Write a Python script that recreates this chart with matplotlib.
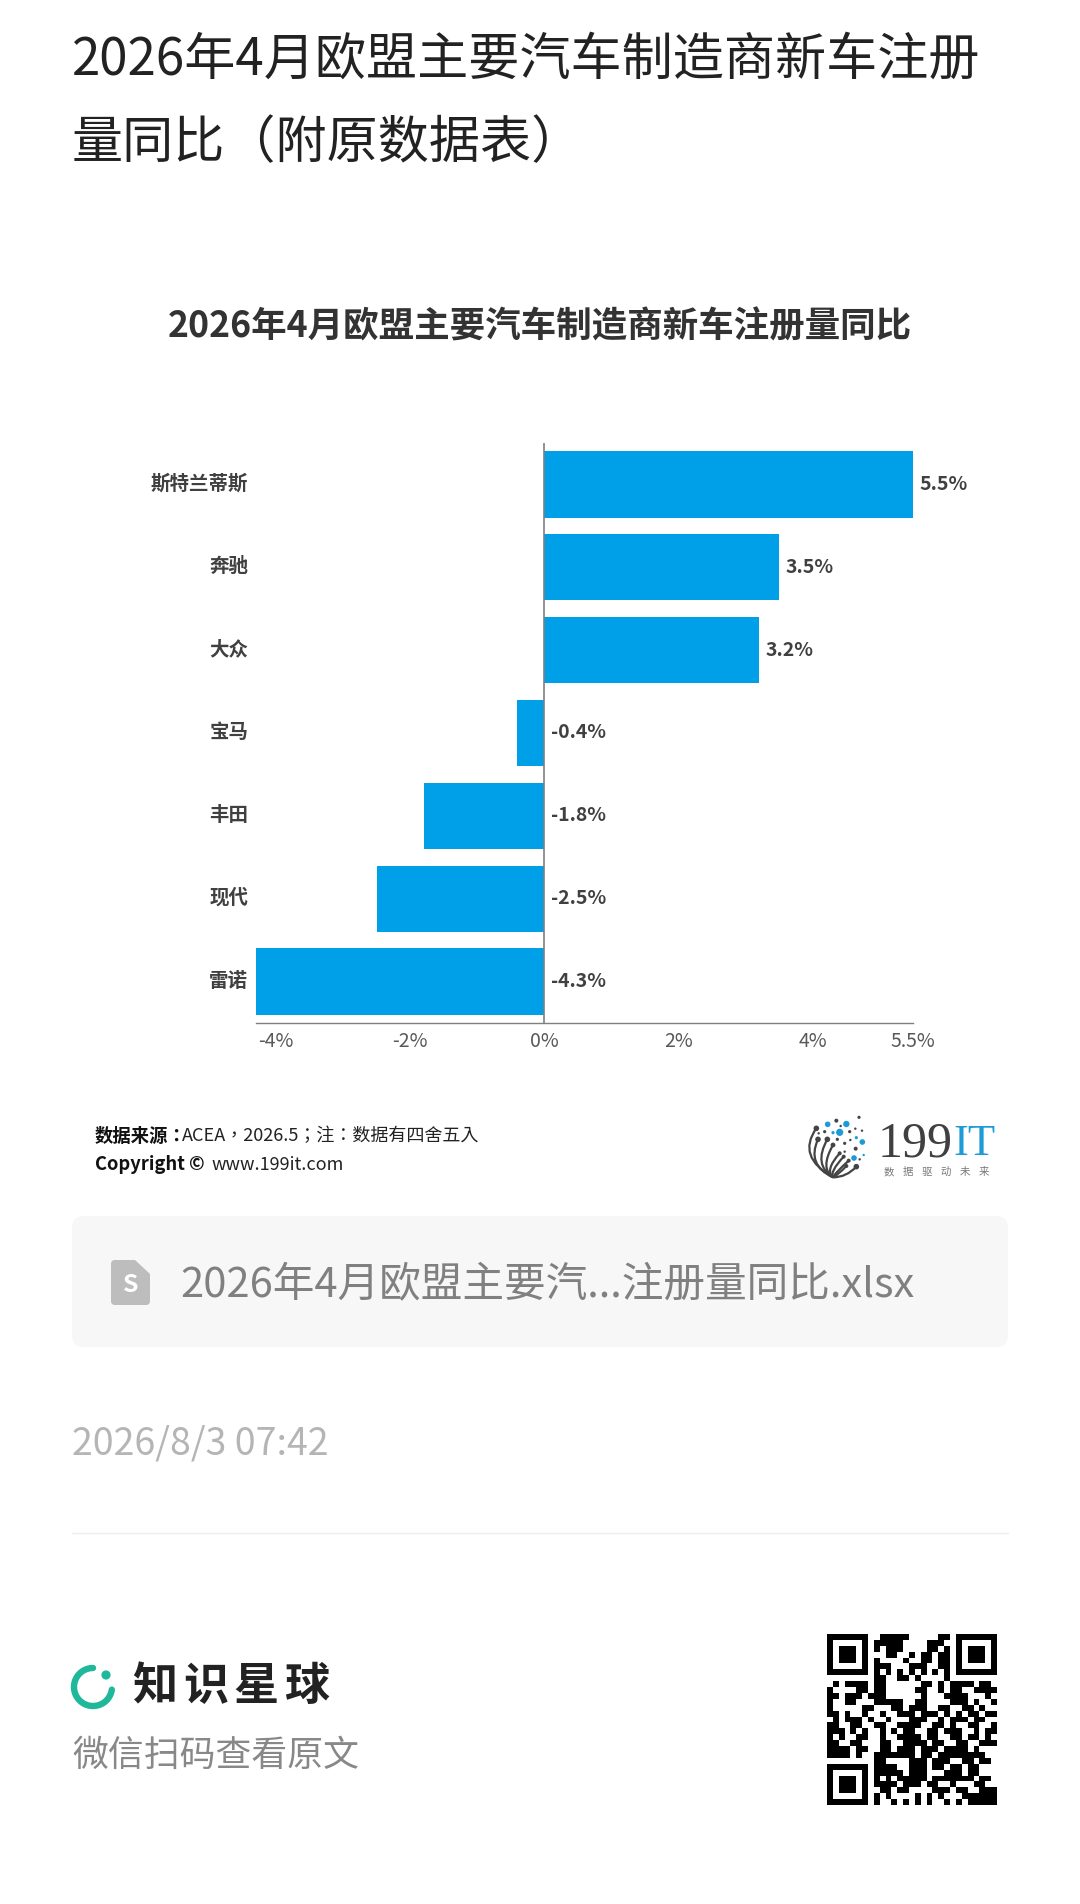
import numpy as np
import matplotlib
matplotlib.use('Agg')
import matplotlib.pyplot as plt
from matplotlib.patches import Circle, FancyBboxPatch, PathPatch
from matplotlib.path import Path
from matplotlib.transforms import ScaledTranslation

plt.rcParams['font.family'] = ['Noto Sans CJK SC', 'DejaVu Sans']

page_title = ['2026年4月欧盟主要汽车制造商新车注册', '量同比（附原数据表）']
chart_title = '2026年4月欧盟主要汽车制造商新车注册量同比'
makers = ['斯特兰蒂斯', '奔驰', '大众', '宝马', '丰田', '现代', '雷诺']
changes = [5.5, 3.5, 3.2, -0.4, -1.8, -2.5, -4.3]
tick_values = [-4, -2, 0, 2, 4, 5.5]
tick_labels = ['-4%', '-2%', '0%', '2%', '4%', '5.5%']
file_name = '2026年4月欧盟主要汽...注册量同比.xlsx'
stamp = '2026/8/3 07:42'

qr_rows = [
    '11111110011111000001101111111',
    '10000010111110000111001000001',
    '10111010101110000110101011101',
    '10111010001100101101101011101',
    '10111010100001001101101011101',
    '10000010111000111001101000001',
    '11111110101010101010101111111',
    '00000000110011010000100000000',
    '01011110110000001101011110110',
    '10000110110000011001011001111',
    '11011101110000001000111100010',
    '10011000111110011000011101001',
    '10000011000110111001100110100',
    '11010010010011101110101011011',
    '01011101001000111001011101100',
    '11001100110011110011010011001',
    '11101010010101100110111001011',
    '10100110010011110110011011010',
    '11001100011001111011001100111',
    '11110110011011101110111101000',
    '11110100111111101101111111100',
    '00000000110000111011100110110',
    '11111110111100111011011011000',
    '10000010111110111000111011000',
    '10111010101011111011111110110',
    '10111010111101110110010001100',
    '10111010011011000011101100111',
    '10000010101000010101000111111',
    '11111110100101010100101011111',
]

fig = plt.figure(figsize=(10.8, 19.04), dpi=100, facecolor='white')

# page layer in pixel coordinates
page = fig.add_axes([0, 0, 1, 1])
page.set_xlim(0, 1080)
page.set_ylim(1904, 0)
page.axis('off')

page.text(72, 60, page_title[0], fontsize=36.8, color='#222222', va='center')
page.text(72, 143, page_title[1], fontsize=36.8, color='#222222', va='center')
page.text(540, 327, chart_title, fontsize=25.6, fontweight='bold', color='#333333',
          ha='center', va='center')

# chart
ax = fig.add_axes([256 / 1080, 1 - 1023 / 1904, 657 / 1080, 580 / 1904])
ax.barh(makers, changes, height=0.8, color='#00A0E9')
ax.set_xlim(-4.3, 5.5)
ax.set_ylim(6.5, -0.5)
ax.axvline(0, color='#7f7f7f', lw=1.2)
for side in ['top', 'left', 'right']:
    ax.spines[side].set_visible(False)
ax.spines['bottom'].set_color('#7f7f7f')
ax.spines['bottom'].set_linewidth(1.0)
ax.set_xticks(tick_values, tick_labels, fontsize=14, color='#595959')
ax.tick_params(axis='x', length=0, pad=5.5)
ax.tick_params(axis='y', length=0, pad=5.5, labelsize=14, labelcolor='#404040')
lift = ScaledTranslation(0, 2.5 / 100, fig.dpi_scale_trans)
for label in ax.get_yticklabels():
    label.set_fontweight('bold')
    label.set_transform(label.get_transform() + lift)
for i, v in enumerate(changes):
    ax.annotate(f'{v}%', (max(v, 0), i), xytext=(4.5, 0), textcoords='offset points',
                fontsize=14, fontweight='bold', color='#404040', va='center')

# source note, TC glyphs keep the full-width punctuation centred
note_font = ['Noto Sans CJK TC', 'DejaVu Sans']
page.text(95, 1136, '数据来源：', family=note_font, fontsize=13.2, fontweight='bold', color='#111111', va='center')
page.text(182, 1136, 'ACEA，2026.5；注：数据有四舍五入', family=note_font, fontsize=13, color='#222222', va='center')
page.text(95, 1165, 'Copyright ©', fontsize=13.2, fontweight='bold', color='#111111', va='center')
page.text(212, 1165, 'www.199it.com', fontsize=13, color='#222222', va='center')

# 199IT logo, drawn from the crop coordinates
def lg(x, y):
    return x / 3 + 778, y / 3 + 1090

logo_dots = [
    (243, 82, 4, '#444444'), (149, 103, 7, '#1d9bd8'), (175, 92, 5, '#444444'),
    (205, 102, 8, '#1d9bd8'), (188, 108, 3, '#444444'), (232, 116, 3, '#444444'),
    (252, 122, 3, '#444444'), (215, 125, 4, '#444444'), (185, 127, 9, '#1d9bd8'),
    (140, 125, 4, '#444444'), (165, 128, 4, '#1d9bd8'), (122, 130, 3, '#444444'),
    (235, 143, 4, '#1d9bd8'), (217, 150, 3, '#444444'), (178, 148, 4, '#444444'),
    (253, 156, 7, '#1d9bd8'), (200, 160, 4, '#444444'), (233, 176, 5, '#444444'),
    (257, 195, 3, '#1d9bd8'), (228, 204, 7, '#1d9bd8'), (200, 185, 3, '#444444'),
    (245, 208, 3, '#444444'), (115, 115, 7, '#444444'), (120, 148, 7, '#444444'),
    (148, 148, 7, '#444444'), (165, 165, 6, '#444444'), (185, 190, 5, '#444444'),
    (197, 200, 5, '#444444'), (212, 212, 5, '#444444'), (205, 228, 5, '#444444'),
    (235, 230, 7, '#444444'),
]
for x, y, r, c in logo_dots:
    page.add_patch(Circle(lg(x, y), r * 1.2 / 3, color=c, lw=0))
logo_arcs = [
    ((115, 115), (55, 200)), ((120, 148), (85, 225)), ((148, 148), (105, 225)),
    ((165, 165), (125, 235)), ((185, 190), (140, 240)), ((197, 200), (155, 245)),
    ((212, 212), (170, 250)), ((205, 228), (180, 255)), ((235, 230), (205, 262)),
]
for end, ctrl in logo_arcs:
    verts = [lg(*end), lg(*ctrl), lg(165, 262)]
    page.add_patch(PathPatch(Path(verts, [Path.MOVETO, Path.CURVE3, Path.CURVE3]),
                             fc='none', ec='#444444', lw=1.6))
page.text(878, 1144, '199', family='Liberation Serif', fontsize=36, color='#404040', va='center')
page.text(953, 1144, 'IT', family='Liberation Serif', fontsize=32, color='#1d9bd8', va='center')
for i, ch in enumerate('数据驱动未来'):
    page.text(889 + i * 19, 1172, ch, fontsize=7.5, color='#777777', ha='center', va='center')

# attachment card
page.add_patch(FancyBboxPatch((72, 1216), 936, 131, boxstyle='round,pad=0,rounding_size=12',
                              fc='#f7f7f7', ec='none'))
icon = Path([(115, 1260), (135, 1260), (150, 1274), (150, 1301), (150, 1305), (146, 1305),
             (115, 1305), (111, 1305), (111, 1301), (111, 1264), (111, 1260), (115, 1260)],
            [Path.MOVETO, Path.LINETO, Path.LINETO, Path.LINETO, Path.CURVE3, Path.CURVE3,
             Path.LINETO, Path.CURVE3, Path.CURVE3, Path.LINETO, Path.CURVE3, Path.CURVE3])
page.add_patch(PathPatch(icon, fc='#bdbdbd', ec='none'))
page.text(130.5, 1285, 'S', fontsize=18, fontweight='bold', color='white', ha='center', va='center')
page.text(180, 1285, file_name, fontsize=30, color='#808080', va='center')

page.text(72, 1444, stamp, fontsize=27, color='#b5b5b5', va='center')
page.plot([72, 1008], [1533, 1533], color='#eeeeee', lw=1)

# brand block
t = np.linspace(np.radians(-8), np.radians(-270), 60)
page.plot(93 + 19 * np.cos(t), 1687 - 19 * np.sin(t), color='#1fb89a', lw=4.6,
          solid_capstyle='round')
page.add_patch(Circle((106, 1675), 4.6, color='#1fb89a', lw=0))
for i, ch in enumerate('知识星球'):
    page.text(155 + i * 50.5, 1687, ch, fontsize=32.5, fontweight='bold', color='#222222',
              ha='center', va='center')
page.text(72, 1756, '微信扫码查看原文', fontsize=25.8, color='#888888', va='center')

# QR code
qr = np.array([[int(c) for c in row.ljust(29, '0')[:29]] for row in qr_rows])
page.imshow(1 - qr, cmap='gray', vmin=0, vmax=1, extent=(827, 997, 1805, 1634),
            interpolation='nearest', aspect='auto', zorder=2)
page.set_xlim(0, 1080)
page.set_ylim(1904, 0)

fig.savefig('out.png', dpi=100)
